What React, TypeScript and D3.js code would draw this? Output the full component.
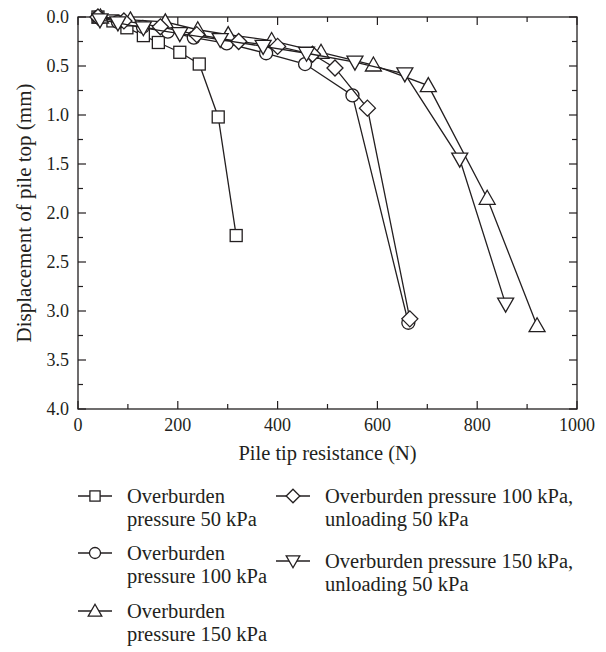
import React from "react";
import * as d3 from "d3";

// Load–displacement data: [pile tip resistance (N), displacement of pile top (mm)]
const seriesLabels = [
  ["Overburden", "pressure 50 kPa"],
  ["Overburden", "pressure 100 kPa"],
  ["Overburden", "pressure 150 kPa"],
  ["Overburden pressure 100 kPa,", "unloading 50 kPa"],
  ["Overburden pressure 150 kPa,", "unloading 50 kPa"],
];
const markerTypes = ["square", "circle", "triangle", "diamond", "triangleDown"];

const s50: [number, number][] = [
  [40, 0], [70, 0.04], [98, 0.11], [131, 0.19], [161, 0.26], [204, 0.36], [243, 0.48], [281, 1.02], [317, 2.23],
];
const s100: [number, number][] = [
  [40, 0], [80, 0.05], [130, 0.1], [180, 0.15], [232, 0.21], [298, 0.27], [377, 0.37], [455, 0.48], [550, 0.8], [662, 3.12],
];
const s150: [number, number][] = [
  [45, 0], [105, 0.03], [175, 0.05], [240, 0.13], [301, 0.18], [388, 0.24], [487, 0.36], [592, 0.49], [702, 0.7], [820, 1.85], [920, 3.15],
];
const s100u: [number, number][] = [
  [40, 0], [92, 0.04], [165, 0.1], [238, 0.18], [322, 0.25], [400, 0.3], [470, 0.38], [515, 0.52], [580, 0.93], [665, 3.08],
];
const s150u: [number, number][] = [
  [44, 0.03], [80, 0.06], [131, 0.11], [204, 0.17], [285, 0.23], [371, 0.3], [458, 0.37], [555, 0.46], [655, 0.58], [765, 1.45], [857, 2.93],
];
const allSeries = [s50, s100, s150, s100u, s150u];

const xTicks = [0, 200, 400, 600, 800, 1000];
const xMinor = [100, 300, 500, 700, 900];
const yTicks = [0, 0.5, 1.0, 1.5, 2.0, 2.5, 3.0, 3.5, 4.0];
const yMinor = [0.25, 0.75, 1.25, 1.75, 2.25, 2.75, 3.25, 3.75];

const INK = "#231f20";
const FONT = "'Liberation Serif', 'DejaVu Serif', serif";

function Marker({ type, x, y, s = 1 }: { type: string; x: number; y: number; s?: number }) {
  const common = { fill: "#fff", stroke: INK, strokeWidth: 1.3 };
  const h = 6 * s;
  const t = 8 * s;
  if (type === "square") return <rect x={x - h} y={y - h} width={2 * h} height={2 * h} {...common} />;
  if (type === "circle") return <circle cx={x} cy={y} r={6.5 * s} {...common} />;
  if (type === "triangle")
    return <path d={`M${x},${y - t}L${x + t},${y + 6 * s}L${x - t},${y + 6 * s}Z`} {...common} />;
  if (type === "triangleDown")
    return <path d={`M${x},${y + t}L${x + t},${y - 6 * s}L${x - t},${y - 6 * s}Z`} {...common} />;
  return <path d={`M${x},${y - t}L${x + t},${y}L${x},${y + t}L${x - t},${y}Z`} {...common} />;
}

export default function App() {
  const W = 606, H = 652;
  const left = 78, right = 577, top = 17, bottom = 409;
  const x = d3.scaleLinear().domain([0, 1000]).range([left, right]);
  const y = d3.scaleLinear().domain([0, 4]).range([top, bottom]);
  const line = d3.line<[number, number]>().x((d) => x(d[0])).y((d) => y(d[1]));

  const major = 8, minor = 5;

  const legendPos = [
    { sx: 95, tx: 127, by: 503 },
    { sx: 95, tx: 127, by: 560 },
    { sx: 95, tx: 127, by: 618 },
    { sx: 293, tx: 325, by: 503 },
    { sx: 293, tx: 325, by: 568 },
  ];

  return (
    <svg width={W} height={H} style={{ position: "absolute", left: 0, top: 0 }} fontFamily={FONT}>
      <rect width={W} height={H} fill="#fff" />
      {/* frame */}
      <rect x={left} y={top} width={right - left} height={bottom - top} fill="none" stroke={INK} strokeWidth={1.3} />
      {/* x ticks, inward on bottom and top */}
      {xTicks.map((t) => (
        <g key={"xt" + t}>
          <line x1={x(t)} x2={x(t)} y1={bottom} y2={bottom - major} stroke={INK} strokeWidth={1.2} />
          <line x1={x(t)} x2={x(t)} y1={top} y2={top + major} stroke={INK} strokeWidth={1.2} />
          <text x={x(t)} y={bottom + 22} textAnchor="middle" fontSize={18} fill={INK}>{t}</text>
        </g>
      ))}
      {xMinor.map((t) => (
        <g key={"xm" + t}>
          <line x1={x(t)} x2={x(t)} y1={bottom} y2={bottom - minor} stroke={INK} strokeWidth={1.2} />
          <line x1={x(t)} x2={x(t)} y1={top} y2={top + minor} stroke={INK} strokeWidth={1.2} />
        </g>
      ))}
      {yTicks.map((t) => (
        <g key={"yt" + t}>
          <line x1={left} x2={left + major} y1={y(t)} y2={y(t)} stroke={INK} strokeWidth={1.2} />
          <line x1={right} x2={right - major} y1={y(t)} y2={y(t)} stroke={INK} strokeWidth={1.2} />
          <text x={left - 9} y={y(t) + 5.5} textAnchor="end" fontSize={18} fill={INK}>{t.toFixed(1)}</text>
        </g>
      ))}
      {yMinor.map((t) => (
        <g key={"ym" + t}>
          <line x1={left} x2={left + minor} y1={y(t)} y2={y(t)} stroke={INK} strokeWidth={1.2} />
          <line x1={right} x2={right - minor} y1={y(t)} y2={y(t)} stroke={INK} strokeWidth={1.2} />
        </g>
      ))}
      <text x={(left + right) / 2} y={460} textAnchor="middle" fontSize={20.5} fill={INK}>Pile tip resistance (N)</text>
      <text transform={`translate(31,${(top + bottom) / 2}) rotate(-90)`} textAnchor="middle" fontSize={21} fill={INK}>
        Displacement of pile top (mm)
      </text>

      {/* series */}
      {allSeries.map((s, i) => (
        <g key={"s" + i}>
          <path d={line(s) || ""} fill="none" stroke={INK} strokeWidth={1.3} />
          {s.map((d, j) => (
            <Marker key={j} type={markerTypes[i]} x={x(d[0])} y={y(d[1])} />
          ))}
        </g>
      ))}

      {/* legend */}
      {seriesLabels.map((lab, i) => {
        const p = legendPos[i];
        return (
          <g key={"lg" + i}>
            <line x1={p.sx - 17} x2={p.sx + 17} y1={p.by - 7} y2={p.by - 7} stroke={INK} strokeWidth={1.3} />
            <Marker type={markerTypes[i]} x={p.sx} y={p.by - 7} s={0.85} />
            <text x={p.tx} y={p.by} fontSize={20.5} fill={INK}>{lab[0]}</text>
            <text x={p.tx} y={p.by + 23} fontSize={20.5} fill={INK}>{lab[1]}</text>
          </g>
        );
      })}
    </svg>
  );
}
